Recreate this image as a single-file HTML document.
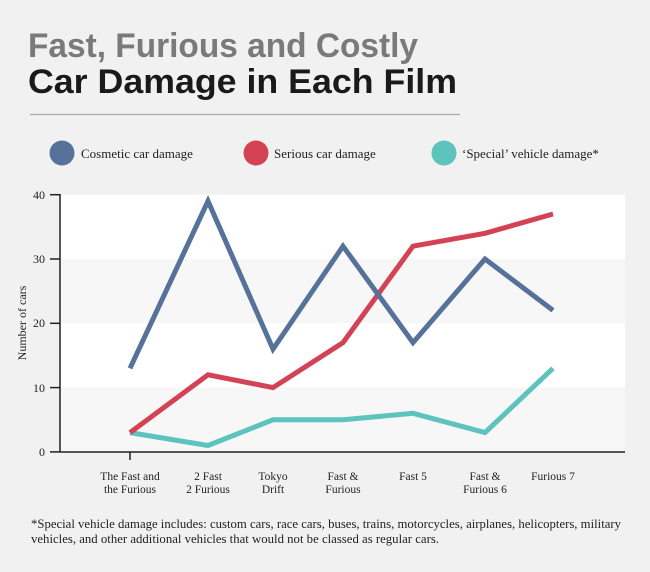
<!DOCTYPE html>
<html><head><meta charset="utf-8"><style>
html,body{margin:0;padding:0;background:#f1f1f1;}
svg{display:block;}
</style></head><body>
<svg width="650" height="572" viewBox="0 0 650 572" xmlns="http://www.w3.org/2000/svg">
<rect width="650" height="572" fill="#f1f1f1"/>
<text x="28" y="57" font-family="Liberation Sans, sans-serif" font-weight="bold" font-size="34" fill="#7a7a7a" textLength="390" lengthAdjust="spacingAndGlyphs">Fast, Furious and Costly</text>
<text x="28" y="93" font-family="Liberation Sans, sans-serif" font-weight="bold" font-size="34" fill="#1a1a1a" textLength="429" lengthAdjust="spacingAndGlyphs">Car Damage in Each Film</text>
<line x1="30" y1="114.5" x2="460" y2="114.5" stroke="#aaaaaa" stroke-width="1.2"/>
<g font-family="Liberation Serif, serif" font-size="13" fill="#222">
<circle cx="62" cy="153" r="12.5" fill="#56719a"/><text x="81" y="158">Cosmetic car damage</text>
<circle cx="256" cy="153" r="12.5" fill="#d44255"/><text x="274" y="158">Serious car damage</text>
<circle cx="444" cy="153" r="12.5" fill="#5cc4bd"/><text x="462" y="158">‘Special’ vehicle damage*</text>
</g>
<rect x="61" y="194.7" width="564" height="64.3" fill="#ffffff"/>
<rect x="61" y="259" width="564" height="64.3" fill="#f7f7f7"/>
<rect x="61" y="323.3" width="564" height="64.3" fill="#ffffff"/>
<rect x="61" y="387.6" width="564" height="64.3" fill="#f7f7f7"/>
<g stroke="#222" stroke-width="1.5">
<line x1="60" y1="194" x2="60" y2="452"/>
<line x1="60" y1="452" x2="625" y2="452"/>
<line x1="50" y1="194.7" x2="60" y2="194.7"/>
<line x1="50" y1="259" x2="60" y2="259"/>
<line x1="50" y1="323.3" x2="60" y2="323.3"/>
<line x1="50" y1="387.6" x2="60" y2="387.6"/>
<line x1="50" y1="451.9" x2="60" y2="451.9"/>
<line x1="130" y1="452" x2="130" y2="460"/>
</g>
<g font-family="Liberation Serif, serif" font-size="12" fill="#222" text-anchor="end">
<text x="45" y="199">40</text><text x="45" y="263">30</text><text x="45" y="327">20</text><text x="45" y="392">10</text><text x="45" y="456">0</text>
</g>
<text transform="translate(26,323) rotate(-90)" font-family="Liberation Serif, serif" font-size="12" fill="#222" text-anchor="middle">Number of cars</text>
<g font-family="Liberation Serif, serif" font-size="11.5" fill="#222" text-anchor="middle">
<text x="130" y="480">The Fast and</text><text x="130" y="493">the Furious</text>
<text x="208" y="480">2 Fast</text><text x="208" y="493">2 Furious</text>
<text x="273" y="480">Tokyo</text><text x="273" y="493">Drift</text>
<text x="343" y="480">Fast &amp;</text><text x="343" y="493">Furious</text>
<text x="413" y="480">Fast 5</text>
<text x="485" y="480">Fast &amp;</text><text x="485" y="493">Furious 6</text>
<text x="553" y="480">Furious 7</text>
</g>
<g fill="none" stroke-width="5" stroke-linejoin="miter">
<polyline stroke="#5cc4bd" points="130,432.6 208,445.5 273,419.8 343,419.8 413,413.3 485,432.6 553,368.3"/>
<polyline stroke="#d44255" points="130,432.6 208,374.8 273,387.6 343,342.6 413,246.2 485,233.3 553,214"/>
<polyline stroke="#56719a" points="130,368.3 208,201.1 273,349.1 343,246.2 413,342.6 485,259 553,310.4"/>
</g>
<g font-family="Liberation Serif, serif" font-size="12.5" fill="#222">
<text x="31" y="528" textLength="590" lengthAdjust="spacingAndGlyphs">*Special vehicle damage includes: custom cars, race cars, buses, trains, motorcycles, airplanes, helicopters, military</text>
<text x="31" y="543" textLength="408" lengthAdjust="spacingAndGlyphs">vehicles, and other additional vehicles that would not be classed as regular cars.</text>
</g>
</svg>
</body></html>
